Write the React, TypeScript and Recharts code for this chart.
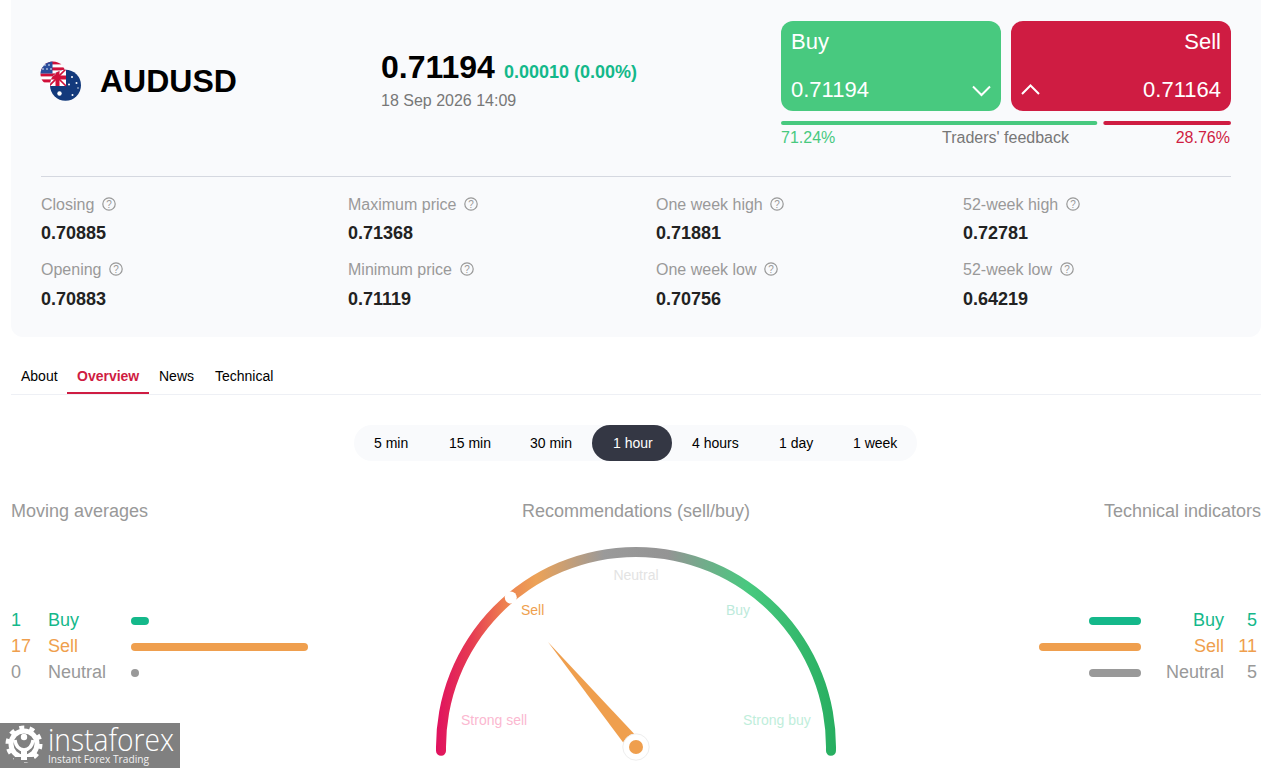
import React from "react";
import { BarChart, Bar, XAxis, YAxis, PieChart, Pie, Cell } from "recharts";

const font = "'Liberation Sans', Arial, sans-serif";
const BUY = "#14b88a";
const SELL = "#ef9f4e";
const NEUTRAL = "#999999";
const GREEN = "#48c97f";
const RED = "#cf1c42";
const CARD = "#f9fafc";

const maCategories = ["Buy", "Sell", "Neutral"];
const maValues = [1, 17, 0];
const tiCategories = ["Buy", "Sell", "Neutral"];
const tiValues = [5, 11, 5];
const rowColors = [BUY, SELL, NEUTRAL];

const gaugeBand = [100];
const gaugeValue = 27.8;
const gaugeMax = 100;
const gaugeLabels = ["Strong sell", "Sell", "Neutral", "Buy", "Strong buy"];

const feedbackBuy = 71.24;
const feedbackSell = 28.76;
const feedbackGap = 1.35;

const statsRow1 = [
  ["Closing", "0.70885"],
  ["Maximum price", "0.71368"],
  ["One week high", "0.71881"],
  ["52-week high", "0.72781"],
];
const statsRow2 = [
  ["Opening", "0.70883"],
  ["Minimum price", "0.71119"],
  ["One week low", "0.70756"],
  ["52-week low", "0.64219"],
];
const timeframes = ["5 min", "15 min", "30 min", "1 hour", "4 hours", "1 day", "1 week"];
const tabs = ["About", "Overview", "News", "Technical"];

const maRows = maCategories.map((name, i) => ({ name, value: maValues[i], color: rowColors[i] }));
const tiRows = tiCategories.map((name, i) => ({ name, value: tiValues[i], color: rowColors[i] }));
const feedbackRows = [{ name: "feedback", buy: feedbackBuy, gap: feedbackGap, sell: feedbackSell }];
const bandRows = gaugeBand.map((value) => ({ value }));
const pointerRows = [{ value: gaugeValue }, { value: gaugeMax - gaugeValue }];

function T({ x, y, size = 16, color = "#000", bold = false, align = "left", children }: any) {
  const lh = Math.round(size * 1.5);
  const top = y - (lh - size * 1.149) / 2 - size * 0.905;
  const style: any = {
    position: "absolute",
    top,
    lineHeight: lh + "px",
    fontSize: size,
    color,
    fontWeight: bold ? 700 : 400,
    fontFamily: font,
    whiteSpace: "nowrap",
  };
  if (align === "left") style.left = x;
  if (align === "right") style.right = 1287 - x;
  if (align === "center") {
    style.left = x - 200;
    style.width = 400;
    style.textAlign = "center";
  }
  return <div style={style}>{children}</div>;
}

function Box({ x, y, w, h, r = 0, bg }: any) {
  return <div style={{ position: "absolute", left: x, top: y, width: w, height: h, borderRadius: r, background: bg }} />;
}

function Help({ x, y }: any) {
  return (
    <svg style={{ position: "absolute", left: x - 8, top: y - 8 }} width={16} height={16}>
      <circle cx={8} cy={8} r={6.2} fill="none" stroke="#999" strokeWidth={1.2} />
      <text x={8} y={11.6} textAnchor="middle" fontSize={10} fontFamily={font} fill="#999">?</text>
    </svg>
  );
}

function Stat({ x, yLabel, yValue, label, value, helpX }: any) {
  return (
    <>
      <T x={x} y={yLabel} color="#999">{label}</T>
      <Help x={helpX} y={yLabel - 6} />
      <T x={x} y={yValue} size={18} bold color="#222">{value}</T>
    </>
  );
}

const helpR1 = [109, 471, 777, 1073];
const helpR2 = [116, 467, 771, 1067];
const statX = [41, 348, 656, 963];

function LeftBar(props: any) {
  const { x, y, width, height, payload } = props;
  return <rect x={x} y={y} width={width + 8} height={height} rx={4} ry={4} fill={payload.color} />;
}

function RightBar(props: any) {
  const { x, y, width, height, payload } = props;
  const right = Math.max(x, x + width);
  const left = Math.min(x, x + width) - 10.33;
  return <rect x={left} y={y} width={right - left} height={height} rx={4} ry={4} fill={payload.color} />;
}

function LeftTick(props: any) {
  const { y, index } = props;
  const row = maRows[index];
  return (
    <g fontFamily={font} fontSize={18} fill={row.color}>
      <text x={11} y={y + 4.7}>{row.value}</text>
      <text x={48} y={y + 4.7}>{row.name}</text>
    </g>
  );
}

function RightTick(props: any) {
  const { y, index } = props;
  const row = tiRows[index];
  return (
    <g fontFamily={font} fontSize={18} fill={row.color} textAnchor="end">
      <text x={227} y={y + 4.7}>{row.value}</text>
      <text x={194} y={y + 4.7}>{row.name}</text>
    </g>
  );
}

function Pointer(props: any) {
  const { cx, cy, endAngle, index } = props;
  if (index !== 0) return <g />;
  const a = (endAngle * Math.PI) / 180;
  const ux = Math.cos(a);
  const uy = -Math.sin(a);
  const px = -uy;
  const py = ux;
  const tip = 137;
  const base = 11;
  const half = 7;
  const pts = [
    [cx + ux * tip, cy + uy * tip],
    [cx + ux * base + px * half, cy + uy * base + py * half],
    [cx + ux * base - px * half, cy + uy * base - py * half],
  ]
    .map((p) => p.join(","))
    .join(" ");
  return (
    <g>
      <polygon points={pts} fill={SELL} />
      <circle cx={cx} cy={cy} r={13.2} fill="#fff" stroke="#eeeeee" strokeWidth={1} />
      <circle cx={cx} cy={cy} r={7} fill={SELL} />
      <circle cx={cx + ux * 195} cy={cy + uy * 195} r={6} fill="#fff" />
    </g>
  );
}

function Flags() {
  return (
    <svg style={{ position: "absolute", left: 35, top: 55 }} width={55} height={50}>
      <defs>
        <clipPath id="usClip"><circle cx={18} cy={19} r={12.5} /></clipPath>
        <clipPath id="auClip"><circle cx={30.5} cy={30.2} r={15.5} /></clipPath>
      </defs>
      <g clipPath="url(#usClip)">
        <rect x={5} y={6} width={26} height={26} fill="#fff" />
        <rect x={5} y={6} width={26} height={3.4} fill="#d0103a" />
        <rect x={5} y={12.4} width={26} height={3} fill="#d0103a" />
        <rect x={5} y={18.4} width={26} height={3} fill="#d0103a" />
        <rect x={5} y={24.4} width={26} height={3} fill="#d0103a" />
        <rect x={5} y={6} width={12.5} height={12.5} fill="#2a4d9b" />
        <g fill="#fff">
          <circle cx={10} cy={10} r={0.8} /><circle cx={14} cy={10} r={0.8} />
          <circle cx={8} cy={14} r={0.8} /><circle cx={12} cy={14} r={0.8} /><circle cx={16} cy={14} r={0.8} />
        </g>
      </g>
      <g clipPath="url(#auClip)">
        <rect x={14} y={14} width={34} height={34} fill="#133a7c" />
        <rect x={14} y={14} width={17} height={17} fill="#fff" />
        <path d="M14 14 L31 31 M31 14 L14 31" stroke="#d0103a" strokeWidth={1.6} />
        <rect x={14} y={20.5} width={17} height={4} fill="#d0103a" />
        <rect x={20.5} y={14} width={4} height={17} fill="#d0103a" />
        <g fill="#fff">
          <circle cx={24.5} cy={38.5} r={2.2} />
          <circle cx={37} cy={22} r={1} /><circle cx={41.5} cy={28} r={1} />
          <circle cx={34} cy={29.5} r={1} /><circle cx={37.5} cy={40} r={1} /><circle cx={43} cy={33} r={0.7} />
        </g>
      </g>
    </svg>
  );
}

function Logo() {
  return (
    <div style={{ position: "absolute", left: 0, top: 723, width: 180, height: 45, background: "#808080" }}>
      <svg width={180} height={45} style={{ position: "absolute", left: 0, top: 0, overflow: "visible" }}>
        <circle cx={24} cy={21} r={13} fill="none" stroke="#fff" strokeWidth={5} />
        <circle cx={24} cy={21} r={16.5} fill="none" stroke="#fff" strokeWidth={4} strokeDasharray="5 5.36" />
        <rect x={14} y={34} width={20} height={5} fill="#808080" />
        <path d="M15 17 Q16 26 24 27 Q32 26 33 17" fill="none" stroke="#fff" strokeWidth={3.4} />
        <circle cx={24} cy={14} r={3.2} fill="#fff" />
        <path d="M24 26 V37" stroke="#fff" strokeWidth={6} />
        <text x={48} y={28} fontFamily="'Open Sans'" fontWeight={300} fontSize={31} fill="#fff" textLength={126} lengthAdjust="spacingAndGlyphs">instaforex</text>
        <text x={48} y={40} fontFamily="'Open Sans'" fontSize={11.5} fill="#f2f2f2" textLength={101} lengthAdjust="spacingAndGlyphs">Instant Forex Trading</text>
      </svg>
    </div>
  );
}

export default function App() {
  return (
    <div style={{ position: "absolute", left: 0, top: 0, width: 1287, height: 768, overflow: "hidden", background: "#fff", fontFamily: font }}>
      <div style={{ position: "absolute", left: 11, top: -20, width: 1250, height: 357, borderRadius: 12, background: CARD }} />
      <Flags />
      <T x={100} y={92} size={32} bold>AUDUSD</T>
      <T x={381} y={78} size={32} bold>0.71194</T>
      <T x={504} y={78} size={18} bold color={BUY}>0.00010 (0.00%)</T>
      <T x={381} y={106} color="#777">18 Sep 2026 14:09</T>

      <Box x={781} y={21} w={220} h={90} r={12} bg={GREEN} />
      <Box x={1011} y={21} w={220} h={90} r={12} bg={RED} />
      <T x={791} y={49} size={22} color="#fff">Buy</T>
      <T x={791} y={97} size={22} color="#fff">0.71194</T>
      <T x={1221} y={49} size={22} color="#fff" align="right">Sell</T>
      <T x={1221} y={97} size={22} color="#fff" align="right">0.71164</T>
      <svg style={{ position: "absolute", left: 965, top: 80 }} width={30} height={20}>
        <path d="M8 6.5 L16.5 15 L25 6.5" fill="none" stroke="#fff" strokeWidth={2} />
      </svg>
      <svg style={{ position: "absolute", left: 1015, top: 78 }} width={30} height={20}>
        <path d="M7 16 L15.5 7.5 L24 16" fill="none" stroke="#fff" strokeWidth={2} />
      </svg>

      <div style={{ position: "absolute", left: 781, top: 117 }}>
        <BarChart width={450} height={12} layout="vertical" data={feedbackRows} margin={{ top: 4, right: 0, bottom: 4, left: 0 }} barCategoryGap={0}>
          <XAxis type="number" hide domain={[0, feedbackBuy + feedbackGap + feedbackSell]} />
          <YAxis type="category" dataKey="name" hide />
          <Bar dataKey="buy" stackId="a" fill={GREEN} radius={2} isAnimationActive={false} />
          <Bar dataKey="gap" stackId="a" fill="none" isAnimationActive={false} />
          <Bar dataKey="sell" stackId="a" fill={RED} radius={2} isAnimationActive={false} />
        </BarChart>
      </div>
      <T x={781} y={143} color={GREEN}>{feedbackBuy.toFixed(2)}%</T>
      <T x={942} y={143} color="#777">Traders' feedback</T>
      <T x={1230} y={143} color={RED} align="right">{feedbackSell.toFixed(2)}%</T>

      <Box x={41} y={176} w={1190} h={1} bg="#d5d8e0" />
      {statsRow1.map((s, i) => (
        <Stat key={s[0]} x={statX[i]} yLabel={210} yValue={239} label={s[0]} value={s[1]} helpX={helpR1[i]} />
      ))}
      {statsRow2.map((s, i) => (
        <Stat key={s[0]} x={statX[i]} yLabel={275} yValue={305} label={s[0]} value={s[1]} helpX={helpR2[i]} />
      ))}

      <Box x={11} y={394} w={1250} h={1} bg="#eef0f5" />
      <Box x={67} y={392} w={82} h={2} bg={RED} />
      {tabs.map((t, i) => (
        <T key={t} x={[21, 77, 159, 215][i]} y={381} size={14} bold={t === "Overview"} color={t === "Overview" ? RED : "#000"}>{t}</T>
      ))}

      <Box x={354} y={425} w={563} h={36} r={18} bg={CARD} />
      <Box x={592} y={425} w={80} h={36} r={18} bg="#343744" />
      {timeframes.map((t, i) => (
        <T key={t} x={[374, 449, 530, 613, 692, 779, 853][i]} y={448} size={14} color={t === "1 hour" ? "#fff" : "#000"}>{t}</T>
      ))}

      <T x={11} y={517} size={18} color={NEUTRAL}>Moving averages</T>
      <T x={636} y={517} size={18} color={NEUTRAL} align="center">Recommendations (sell/buy)</T>
      <T x={1261} y={517} size={18} color={NEUTRAL} align="right">Technical indicators</T>

      <div style={{ position: "absolute", left: 0, top: 608 }}>
        <BarChart width={320} height={78} layout="vertical" data={maRows} margin={{ top: 0, right: 20, bottom: 0, left: 0 }} barSize={8}>
          <XAxis type="number" hide domain={[0, 17]} />
          <YAxis type="category" dataKey="name" width={131} axisLine={false} tickLine={false} tick={<LeftTick />} />
          <Bar dataKey="value" shape={<LeftBar />} isAnimationActive={false} />
        </BarChart>
      </div>

      <div style={{ position: "absolute", left: 1030, top: 608 }}>
        <BarChart width={257} height={78} layout="vertical" data={tiRows} margin={{ top: 0, right: 0, bottom: 0, left: 19.3 }} barSize={8}>
          <XAxis type="number" hide reversed domain={[0, 11]} />
          <YAxis type="category" dataKey="name" orientation="right" width={146} axisLine={false} tickLine={false} tick={<RightTick />} />
          <Bar dataKey="value" shape={<RightBar />} isAnimationActive={false} />
        </BarChart>
      </div>

      <div style={{ position: "absolute", left: 416, top: 530 }}>
        <PieChart width={440} height={238} margin={{ top: 0, right: 0, bottom: 0, left: 0 }}>
          <defs>
            <linearGradient id="gaugeGradient" x1="0" y1="0" x2="1" y2="0">
              <stop offset="0%" stopColor="#e0115f" />
              <stop offset="9%" stopColor="#e63c52" />
              <stop offset="17%" stopColor="#ee7f4f" />
              <stop offset="25%" stopColor="#eca257" />
              <stop offset="42%" stopColor="#9a9a9a" />
              <stop offset="58%" stopColor="#949494" />
              <stop offset="78%" stopColor="#48c97f" />
              <stop offset="100%" stopColor="#27ae60" />
            </linearGradient>
          </defs>
          <Pie data={bandRows} dataKey="value" cx={220} cy={217} innerRadius={190} outerRadius={200} startAngle={182.6} endAngle={-2.6} cornerRadius={5} stroke="none" isAnimationActive={false}>
            <Cell fill="url(#gaugeGradient)" />
          </Pie>
          <Pie data={pointerRows} dataKey="value" cx={220} cy={217} innerRadius={190} outerRadius={200} startAngle={180} endAngle={0} stroke="none" fill="none" shape={<Pointer />} isAnimationActive={false} />
        </PieChart>
      </div>
      <T x={461} y={725} size={14} color="#fbb8d0">{gaugeLabels[0]}</T>
      <T x={521} y={615} size={14} color={SELL}>{gaugeLabels[1]}</T>
      <T x={636} y={580} size={14} color="#e3e3e3" align="center">{gaugeLabels[2]}</T>
      <T x={726} y={615} size={14} color="#bdeadb">{gaugeLabels[3]}</T>
      <T x={743} y={725} size={14} color="#bfeedb">{gaugeLabels[4]}</T>

      <Logo />
    </div>
  );
}
